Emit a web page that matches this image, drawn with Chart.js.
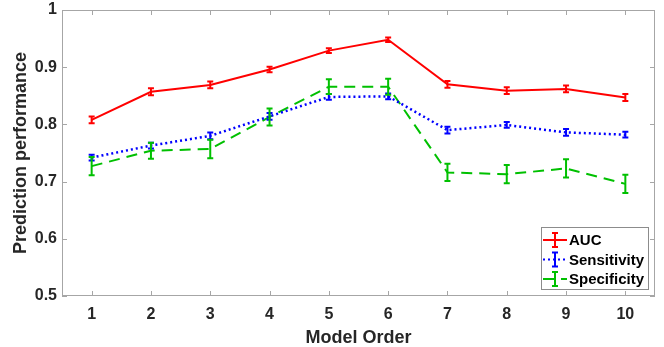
<!DOCTYPE html>
<html>
<head>
<meta charset="utf-8">
<script src="https://cdn.jsdelivr.net/npm/chart.js@4"></script>
<style>
  html, body { margin: 0; padding: 0; background: #ffffff; }
  canvas { display: block; }
</style>
</head>
<body>
<canvas id="chart" width="664" height="347"></canvas>
<script>
"use strict";

// Model orders on the x axis
const modelOrders = ['1', '2', '3', '4', '5', '6', '7', '8', '9', '10'];

// Mean values
const aucValues = [0.808, 0.857, 0.869, 0.896, 0.929, 0.948, 0.870, 0.859, 0.862, 0.847];
const sensitivityValues = [0.742, 0.763, 0.780, 0.814, 0.848, 0.849, 0.790, 0.799, 0.786, 0.782];
const specificityValues = [0.727, 0.754, 0.757, 0.813, 0.866, 0.866, 0.716, 0.713, 0.723, 0.696];

// Error bar half-widths
const aucErrors = [0.006, 0.006, 0.006, 0.005, 0.004, 0.004, 0.006, 0.006, 0.006, 0.006];
const sensitivityErrors = [0.005, 0.005, 0.006, 0.006, 0.005, 0.005, 0.006, 0.005, 0.006, 0.005];
const specificityErrors = [0.016, 0.014, 0.016, 0.015, 0.013, 0.014, 0.015, 0.016, 0.016, 0.016];

// Y tick labels
const yTicks = [0.5, 0.6, 0.7, 0.8, 0.9, 1];

const FONT = "'Liberation Sans', Arial, Helvetica, sans-serif";
const AXIS_GRAY = '#a6a6a6';

// Draws error bars, the axis box with inward ticks, and a MATLAB-like legend
const errorBarPlugin = {
    id: 'errorBars',
    afterDatasetsDraw(chart) {
        const ctx = chart.ctx;
        const xScale = chart.scales.x;
        const yScale = chart.scales.y;
        chart.data.datasets.forEach((ds, di) => {
            if (!chart.isDatasetVisible(di)) return;
            ctx.save();
            ctx.strokeStyle = ds.borderColor;
            ctx.lineWidth = 2;
            ctx.setLineDash([]);
            ds.data.forEach((v, i) => {
                const x = xScale.getPixelForValue(i);
                const yTop = yScale.getPixelForValue(v + ds.errors[i]);
                const yBot = yScale.getPixelForValue(v - ds.errors[i]);
                ctx.beginPath();
                ctx.moveTo(x, yTop);
                ctx.lineTo(x, yBot);
                ctx.moveTo(x - 3, yTop);
                ctx.lineTo(x + 3, yTop);
                ctx.moveTo(x - 3, yBot);
                ctx.lineTo(x + 3, yBot);
                ctx.stroke();
            });
            ctx.restore();
        });
    },
    afterDraw(chart) {
        const ctx = chart.ctx;
        const area = chart.chartArea;
        const xScale = chart.scales.x;
        const yScale = chart.scales.y;
        ctx.save();
        ctx.strokeStyle = AXIS_GRAY;
        ctx.lineWidth = 1;
        ctx.setLineDash([]);
        ctx.strokeRect(Math.round(area.left) + 0.5, Math.round(area.top) + 0.5,
            Math.round(area.right - area.left) - 1, Math.round(area.bottom - area.top) - 1);
        const tl = 5;
        ctx.beginPath();
        modelOrders.forEach((m, i) => {
            const x = Math.round(xScale.getPixelForValue(i)) + 0.5;
            ctx.moveTo(x, area.bottom);
            ctx.lineTo(x, area.bottom - tl);
            ctx.moveTo(x, area.top);
            ctx.lineTo(x, area.top + tl);
        });
        yTicks.forEach(t => {
            const y = Math.round(yScale.getPixelForValue(t)) + 0.5;
            ctx.moveTo(area.left, y);
            ctx.lineTo(area.left + tl, y);
            ctx.moveTo(area.right, y);
            ctx.lineTo(area.right - tl, y);
        });
        ctx.stroke();

        // legend box
        const lx = 541, ly = 227, lw = 107, lh = 62;
        ctx.fillStyle = '#ffffff';
        ctx.fillRect(lx, ly, lw, lh);
        ctx.strokeStyle = '#8c8c8c';
        ctx.strokeRect(lx + 0.5, ly + 0.5, lw, lh);
        ctx.font = 'bold 15px ' + FONT;
        ctx.textBaseline = 'middle';
        ctx.textAlign = 'left';
        chart.data.datasets.forEach((ds, i) => {
            const y = 240 + i * 19.5;
            ctx.strokeStyle = ds.borderColor;
            ctx.lineWidth = 2;
            ctx.setLineDash(ds.borderDash || []);
            ctx.beginPath();
            ctx.moveTo(543, y);
            ctx.lineTo(567, y);
            ctx.stroke();
            ctx.setLineDash([]);
            ctx.beginPath();
            ctx.moveTo(555, y - 7);
            ctx.lineTo(555, y + 7);
            ctx.moveTo(552, y - 7);
            ctx.lineTo(558, y - 7);
            ctx.moveTo(552, y + 7);
            ctx.lineTo(558, y + 7);
            ctx.stroke();
            ctx.fillStyle = '#000000';
            ctx.fillText(ds.label, 569, y + 1);
        });
        ctx.restore();
    }
};

const ctx = document.getElementById('chart').getContext('2d');

new Chart(ctx, {
    type: 'line',
    data: {
        labels: modelOrders,
        datasets: [
            {
                label: 'AUC',
                data: aucValues,
                errors: aucErrors,
                borderColor: '#ff0000',
                borderWidth: 2,
                pointRadius: 0,
                fill: false,
                tension: 0
            },
            {
                label: 'Sensitivity',
                data: sensitivityValues,
                errors: sensitivityErrors,
                borderColor: '#0000ff',
                borderWidth: 2.5,
                borderDash: [2, 3],
                pointRadius: 0,
                fill: false,
                tension: 0
            },
            {
                label: 'Specificity',
                data: specificityValues,
                errors: specificityErrors,
                borderColor: '#00c000',
                borderWidth: 2,
                borderDash: [11, 7],
                pointRadius: 0,
                fill: false,
                tension: 0
            }
        ]
    },
    options: {
        responsive: false,
        devicePixelRatio: 1,
        animation: false,
        layout: { padding: { top: 10, right: 9, left: 0, bottom: 0 } },
        plugins: {
            legend: { display: false },
            tooltip: { enabled: false }
        },
        scales: {
            x: {
                type: 'category',
                offset: true,
                grid: { display: false, drawTicks: false },
                border: { display: false },
                ticks: {
                    color: '#262626',
                    font: { family: FONT, size: 16, weight: 'bold' },
                    padding: 9,
                    maxRotation: 0
                },
                title: {
                    display: true,
                    text: 'Model Order',
                    color: '#262626',
                    font: { family: FONT, size: 18, weight: 'bold' },
                    padding: { top: 0, bottom: -2 }
                },
                afterFit(scale) {
                    scale.height = 51;
                    scale.paddingLeft = 0;
                    scale.paddingRight = 0;
                }
            },
            y: {
                min: 0.5,
                max: 1,
                grid: { display: false, drawTicks: false },
                border: { display: false },
                afterBuildTicks(scale) {
                    scale.ticks = yTicks.map(v => ({ value: v }));
                },
                ticks: {
                    color: '#262626',
                    font: { family: FONT, size: 16, weight: 'bold' },
                    padding: 5,
                    callback: v => String(Number(v.toFixed(1)))
                },
                title: {
                    display: true,
                    text: 'Prediction performance',
                    color: '#262626',
                    font: { family: FONT, size: 18, weight: 'bold' },
                    padding: { top: 10, bottom: 0 }
                },
                afterFit(scale) {
                    scale.width = 62;
                    scale.paddingTop = 0;
                    scale.paddingBottom = 0;
                }
            }
        }
    },
    plugins: [errorBarPlugin]
});
</script>
</body>
</html>
